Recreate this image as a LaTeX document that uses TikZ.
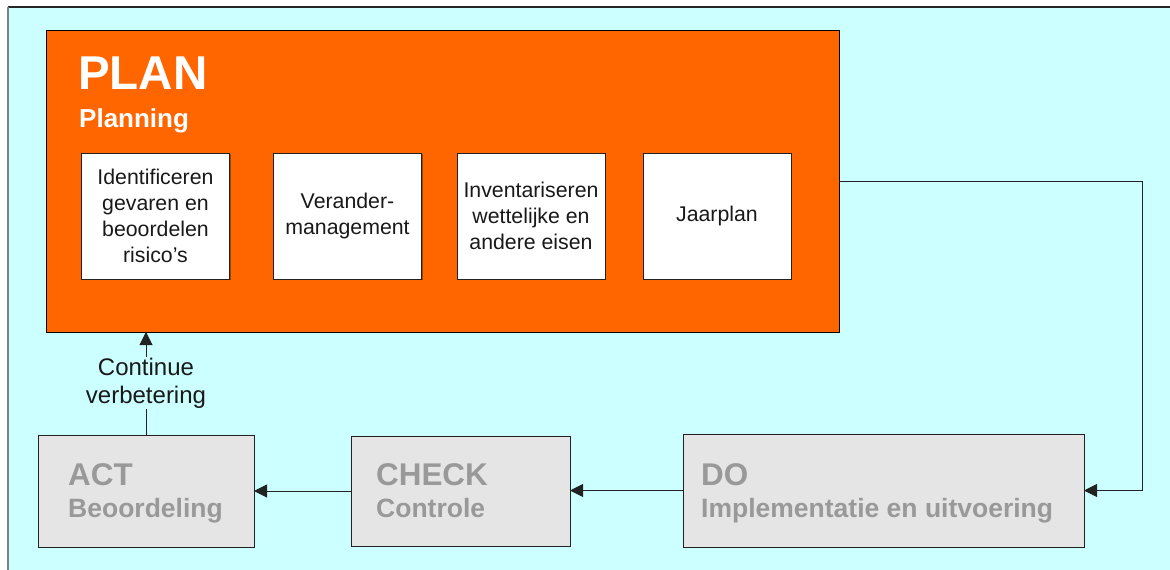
\documentclass[tikz,border=0pt]{standalone}
\usepackage{fontspec}
\setmainfont{Liberation Sans}
\usetikzlibrary{arrows.meta,shadows}
\definecolor{bgcyan}{HTML}{CCFFFF}
\definecolor{planorange}{HTML}{FF6600}
\definecolor{pdcafill}{HTML}{E5E5E5}
\definecolor{pdcatext}{HTML}{999999}
\definecolor{linegray}{HTML}{222222}

\tikzset{
  planbox/.style={draw=black, line width=1, fill=planorange, rectangle,
    anchor=north west, outer sep=0, inner sep=0},
  taskbox/.style={draw=linegray, line width=1, fill=white, rectangle,
    anchor=north west, outer sep=0, inner sep=0,
    minimum width=148, minimum height=126,
    drop shadow={shadow xshift=1.2pt, shadow yshift=-1.2pt, fill=black, opacity=0.35}},
  tasktext/.style={align=center, font=\fontsize{21.3}{26}\selectfont, text=black!90},
  phasebox/.style={draw=linegray, line width=1, fill=pdcafill, rectangle,
    anchor=north west, outer sep=0, inner sep=0,
    drop shadow={shadow xshift=1.2pt, shadow yshift=-1.2pt, fill=black, opacity=0.35}},
  phasetitle/.style={anchor=base west, text=pdcatext, inner sep=0,
    font=\fontsize{31.4}{34}\bfseries\selectfont},
  phasesub/.style={anchor=base west, text=pdcatext, inner sep=0,
    font=\fontsize{26.5}{30}\bfseries\selectfont},
  conn/.style={draw=linegray, line width=1},
  arrowconn/.style={conn, -{Triangle[length=13, width=13]}},
}

\begin{document}
\begin{tikzpicture}[x=1pt, y=-1pt]
\useasboundingbox (0,0) rectangle (1170,570);

% background panel
\fill[bgcyan] (9,7) rectangle (1170,570);
\draw[black!85, line width=1.5] (8,7) -- (1170,7);
\draw[gray, line width=2] (8,6.5) -- (8,570);

% PLAN block with its four tasks
\node[planbox, minimum width=793, minimum height=302] (plan) at (46,30) {};
\node[anchor=base west, inner sep=0, text=white,
      font=\fontsize{47.5}{52}\bfseries\selectfont] (plantitle) at (78,89) {PLAN};
\node[anchor=base west, inner sep=0, text=white,
      font=\fontsize{26}{30}\bfseries\selectfont] (plansub) at (79,127) {Planning};

\node[taskbox] (t1) at (81.5,153) {};
\node[tasktext] (t1text) at (t1.center) {Identificeren\\gevaren en\\beoordelen\\risico’s};
\node[taskbox] (t2) at (273.5,153) {};
\node[tasktext] (t2text) at (t2.center) {Verander-\\management};
\node[taskbox] (t3) at (457,153) {};
\node[tasktext] (t3text) at (t3.center) {Inventariseren\\wettelijke en\\andere eisen};
\node[taskbox] (t4) at (643,153) {};
\node[tasktext] (t4text) at (t4.center) {Jaarplan};

% DO, CHECK and ACT blocks
\node[phasebox, minimum width=401, minimum height=113] (do) at (683,434) {};
\node[phasetitle] (dotitle) at (701,485) {DO};
\node[phasesub] (dosub) at (701,517) {Implementatie en uitvoering};

\node[phasebox, minimum width=219, minimum height=110] (check) at (351,436) {};
\node[phasetitle] (checktitle) at (376,485) {CHECK};
\node[phasesub] (checksub) at (376,517) {Controle};

\node[phasebox, minimum width=216, minimum height=112] (act) at (38,435) {};
\node[phasetitle] (acttitle) at (68,485) {ACT};
\node[phasesub] (actsub) at (68,517) {Beoordeling};

% cycle connectors
\coordinate (turn) at (1142,181);
\draw[arrowconn] (plan.east |- turn) -- (turn) |- (do.east);
\draw[arrowconn] (do.west) -- (do.west -| check.east);
\draw[arrowconn] (check.west) -- (check.west -| act.east);
\draw[arrowconn] (act.north) -- (act.north |- plan.south);
\node[fill=bgcyan, align=center, inner sep=1, text=black!90,
      font=\fontsize{24}{28}\selectfont] (improve) at (146,383) {Continue\\verbetering};
\end{tikzpicture}
\end{document}
